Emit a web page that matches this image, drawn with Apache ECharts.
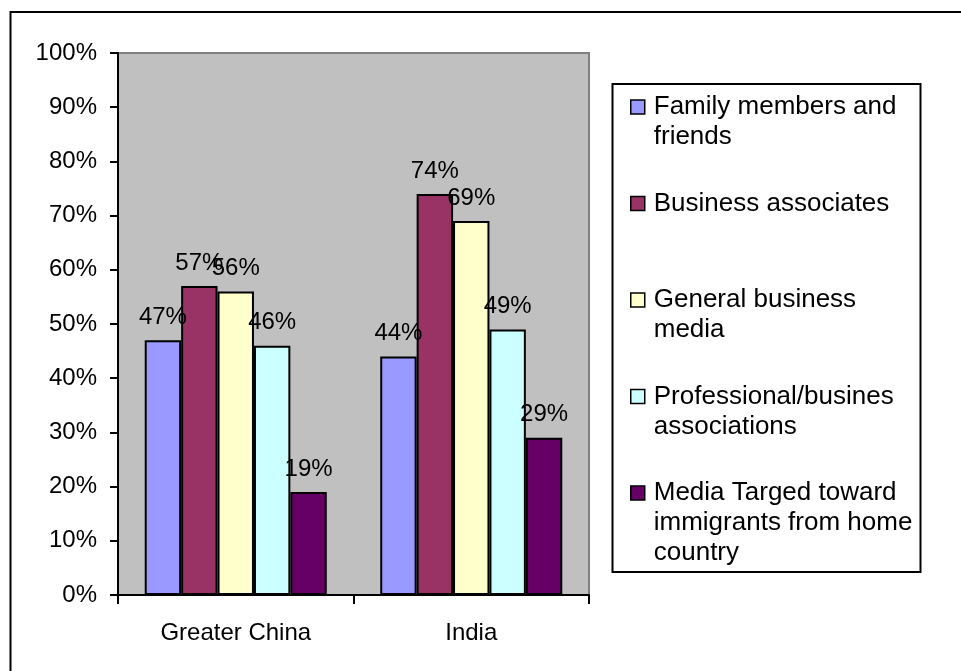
<!DOCTYPE html>
<html>
<head>
<meta charset="utf-8">
<script src="https://cdn.jsdelivr.net/npm/echarts@6/dist/echarts.min.js"></script>
<style>
  html, body { margin: 0; padding: 0; background: #fff; }
  #chart { width: 961px; height: 671px; }
</style>
</head>
<body>
<div id="chart"></div>
<script>
// Information sources by region of origin (share of respondents)
const categories = ['Greater China', 'India'];
const familyFriends = [47, 44];
const businessAssociates = [57, 74];
const generalMedia = [56, 69];
const professionalAssoc = [46, 49];
const immigrantMedia = [19, 29];
const yTicks = { min: 0, max: 100, step: 10 };

const seriesDefs = [
  { name: 'Family members and\nfriends', data: familyFriends, color: '#9999FF' },
  { name: 'Business associates', data: businessAssociates, color: '#993366' },
  { name: 'General business\nmedia', data: generalMedia, color: '#FFFFCC' },
  { name: 'Professional/busines\nassociations', data: professionalAssoc, color: '#CCFFFF' },
  { name: 'Media Targed toward\nimmigrants from home\ncountry', data: immigrantMedia, color: '#660066' }
];

const FONT = 'Liberation Sans, Arial, sans-serif';
const LINE_H = 30;
const MAX_LINES = 3;

// Legend text: blank lines above the entry keep its first line level with the swatch,
// and blank lines below give every entry the same block height.
function legendText(name) {
  const lines = name.split('\n');
  const out = [];
  for (let i = 0; i < MAX_LINES - 1; i++) out.push('{t| }');
  for (let i = 0; i < MAX_LINES; i++) out.push('{t|' + (i < lines.length ? lines[i] : ' ') + '}');
  return out.join('\n');
}

const chart = echarts.init(document.getElementById('chart'), null, { renderer: 'canvas' });

chart.setOption({
  backgroundColor: '#ffffff',
  animation: false,
  textStyle: { fontFamily: FONT },
  grid: {
    left: 118, top: 53, width: 471, height: 542,
    show: true,
    backgroundColor: '#C0C0C0',
    borderColor: '#808080',
    borderWidth: 2
  },
  legend: {
    orient: 'vertical',
    left: 630,
    top: 32,
    padding: 0,
    itemWidth: 14,
    itemHeight: 14,
    itemGap: 96.5 - (2 * MAX_LINES - 1) * LINE_H,
    icon: 'rect',
    itemStyle: { borderColor: '#000', borderWidth: 1.5 },
    textStyle: {
      fontSize: 26, color: '#000', lineHeight: LINE_H, fontFamily: FONT,
      rich: {
        t: { fontSize: 26, color: '#000', lineHeight: LINE_H, fontFamily: FONT, padding: [0, 0, 0, 4] }
      }
    },
    selectedMode: false,
    formatter: legendText,
    data: seriesDefs.map(s => s.name)
  },
  graphic: [
    {
      type: 'rect', silent: true, z: -1,
      shape: { x: 10.5, y: 12, width: 1000, height: 700 },
      style: { fill: 'none', stroke: '#000', lineWidth: 2 }
    },
    {
      type: 'rect', silent: true, z: -1,
      shape: { x: 612.5, y: 84, width: 308, height: 488 },
      style: { fill: '#fff', stroke: '#000', lineWidth: 2 }
    }
  ],
  xAxis: {
    type: 'category',
    data: categories,
    boundaryGap: true,
    axisLine: { show: true, lineStyle: { color: '#000', width: 2 } },
    axisTick: { show: true, length: 9, lineStyle: { color: '#000', width: 2 } },
    axisLabel: { fontSize: 24, color: '#000', margin: 26, fontFamily: FONT },
    splitLine: { show: false }
  },
  yAxis: {
    type: 'value',
    min: yTicks.min,
    max: yTicks.max,
    interval: yTicks.step,
    axisLine: { show: true, lineStyle: { color: '#000', width: 2 } },
    axisTick: { show: true, length: 8, lineStyle: { color: '#000', width: 2 } },
    axisLabel: {
      fontSize: 24, color: '#000', margin: 21, formatter: '{value}%',
      fontFamily: FONT, padding: [6, 0, 0, 0]
    },
    splitLine: { show: false }
  },
  series: seriesDefs.map(s => ({
    type: 'bar',
    name: s.name,
    data: s.data,
    barGap: '0%',
    barCategoryGap: '22.7%',
    itemStyle: { color: s.color, borderColor: '#000', borderWidth: 2 },
    label: {
      show: true,
      position: 'top',
      distance: 11,
      formatter: '{c}%',
      fontSize: 24,
      color: '#000',
      fontFamily: FONT
    },
    labelLayout: { hideOverlap: false }
  }))
});
</script>
</body>
</html>
